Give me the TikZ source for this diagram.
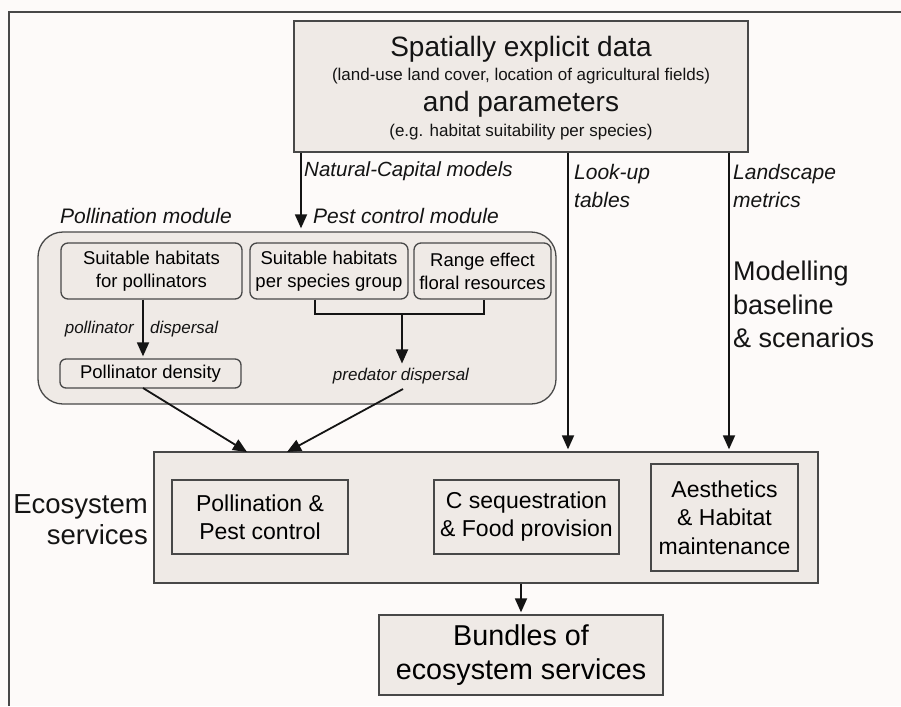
\documentclass[tikz,border=0pt]{standalone}
\usepackage{fontspec}
\setmainfont{Liberation Sans}
\usetikzlibrary{arrows.meta}
\definecolor{bg}{RGB}{253,250,249}
\definecolor{boxfill}{RGB}{239,234,230}
\definecolor{edge}{RGB}{72,72,72}
\definecolor{ink}{RGB}{20,20,20}
\newcommand{\fsz}[2]{\fontsize{#1}{#2}\selectfont}
\begin{document}
\begin{tikzpicture}[x=1pt,y=-1pt,
  box/.style={draw=edge, line width=1.3pt, fill=boxfill, inner sep=0pt, align=center},
  rbox/.style={box, rounded corners=7pt},
  arr/.style={draw=ink, line width=1.8pt, -{Triangle[length=14pt,width=12pt]}},
  thin/.style={draw=ink, line width=1.5pt},
  lab/.style={font=\fsz{21}{28}\itshape, inner sep=0pt, text=ink},
  small/.style={font=\fsz{17}{20}\itshape, inner sep=0pt, text=ink},
  txt/.style={inner sep=0pt, text=ink}]
\fill[bg] (0,0) rectangle (901,706);
\useasboundingbox (0,0) rectangle (901,706);
\draw[edge, line width=1.5pt] (901,12) -- (9,12) -- (9,706);

% top data box
\node[box, minimum width=454pt, minimum height=131pt] (data) at (521,86.5) {};
\node[txt, font=\fsz{28}{32}, anchor=base] (t1) at (521,57) {Spatially explicit data};
\node[txt, font=\fsz{17}{20}, anchor=base] (t2) at (521,81) {(land-use land cover, location of agricultural fields)};
\node[txt, font=\fsz{28}{32}, anchor=base] (t3) at (521,112) {and parameters};
\node[txt, font=\fsz{17}{20}, anchor=base] (t4) at (521,136) {(e.g. habitat suitability per species)};

% pollination / pest control module
\node[box, rounded corners=25pt, minimum width=518pt, minimum height=172pt] (pm) at (297,318) {};
\node[lab, anchor=base west] (lpm) at (60,223) {Pollination module};
\node[lab, anchor=base west] (lpc) at (313,223) {Pest control module};

\node[rbox, font=\fsz{18.5}{23}, minimum width=181pt, minimum height=56pt] (b1) at (151.5,271) {Suitable habitats\\for pollinators};
\node[rbox, font=\fsz{18.5}{23}, minimum width=158pt, minimum height=56pt] (b2) at (329,271) {Suitable habitats\\per species group};
\node[rbox, font=\fsz{18.5}{23}, minimum width=137pt, minimum height=56pt] (b3) at (482.5,271) {Range effect\\floral resources};
\node[rbox, rounded corners=6pt, font=\fsz{18.5}{23}, minimum width=181pt, minimum height=29pt] (pd) at (150.5,373.5) {Pollinator density};
\node[small, anchor=base east] (lp1) at (134,333) {pollinator};
\node[small, anchor=base west] (lp2) at (150,333) {dispersal};
\node[small, anchor=base] (pred) at (401,380) {predator dispersal};

% ecosystem services
\node[box, minimum width=664pt, minimum height=131pt] (es) at (486,517.5) {};
\node[box, font=\fsz{23}{28}, minimum width=176pt, minimum height=74pt] (s1) at (260,517) {Pollination \&\\Pest control};
\node[box, font=\fsz{23}{28}, minimum width=185pt, minimum height=74pt] (s2) at (526.5,517) {C sequestration\\\& Food provision};
\node[box, font=\fsz{23}{28.5}, minimum width=147pt, minimum height=107pt] (s3) at (724.5,517.5) {Aesthetics\\\& Habitat\\maintenance};
\node[txt, font=\fsz{27.5}{31}, align=right, anchor=east] (les) at (148,520) {Ecosystem\\services};

% bundles
\node[box, font=\fsz{28.7}{34}, minimum width=284pt, minimum height=80pt] (bun) at (521,655) {Bundles of\\ecosystem services};

% labels on the right
\node[lab, align=left, anchor=west] (llu) at (574,185.5) {Look-up\\tables};
\node[lab, align=left, anchor=west] (lls) at (733,185.5) {Landscape\\metrics};
\node[lab, font=\fsz{20.5}{26}\itshape, anchor=base west] (lnc) at (304,176) {Natural-Capital models};
\node[txt, font=\fsz{27}{33.5}, align=left, anchor=west] (lmod) at (733,304.5) {Modelling\\baseline\\\& scenarios};

% connector coordinates
\coordinate (xnc) at (301,0);
\coordinate (xlu) at (568,0);
\coordinate (xls) at (729,0);
\coordinate (xpd) at (143,0);
\coordinate (xbun) at (521,0);
\coordinate (k1) at (315,314);
\coordinate (k2) at (484,314);
\coordinate (k3) at (402,314);
\coordinate (e1) at (247,452);
\coordinate (e2) at (287,452);
\coordinate (pdo) at (143,388);
\coordinate (pro) at (403,389);

% connectors
\draw[arr, shorten >=3pt] (data.south -| xnc) -- (pm.north -| xnc);
\draw[arr, shorten >=2pt] (data.south -| xlu) -- (es.north -| xlu);
\draw[arr, shorten >=2pt] (data.south -| xls) -- (es.north -| xls);
\draw[arr, shorten >=2pt] (b1.south -| xpd) -- (pd.north -| xpd);
\draw[thin] (b2.south -| k1) -- (k1) -- (k2) -- (b3.south -| k2);
\draw[arr, shorten >=4pt] (k3) -- (pred.north -| k3);
\draw[arr] (pdo) -- (e1);
\draw[arr] (pro) -- (e2);
\draw[arr, shorten >=2pt] (es.south -| xbun) -- (bun.north -| xbun);
\end{tikzpicture}
\end{document}
